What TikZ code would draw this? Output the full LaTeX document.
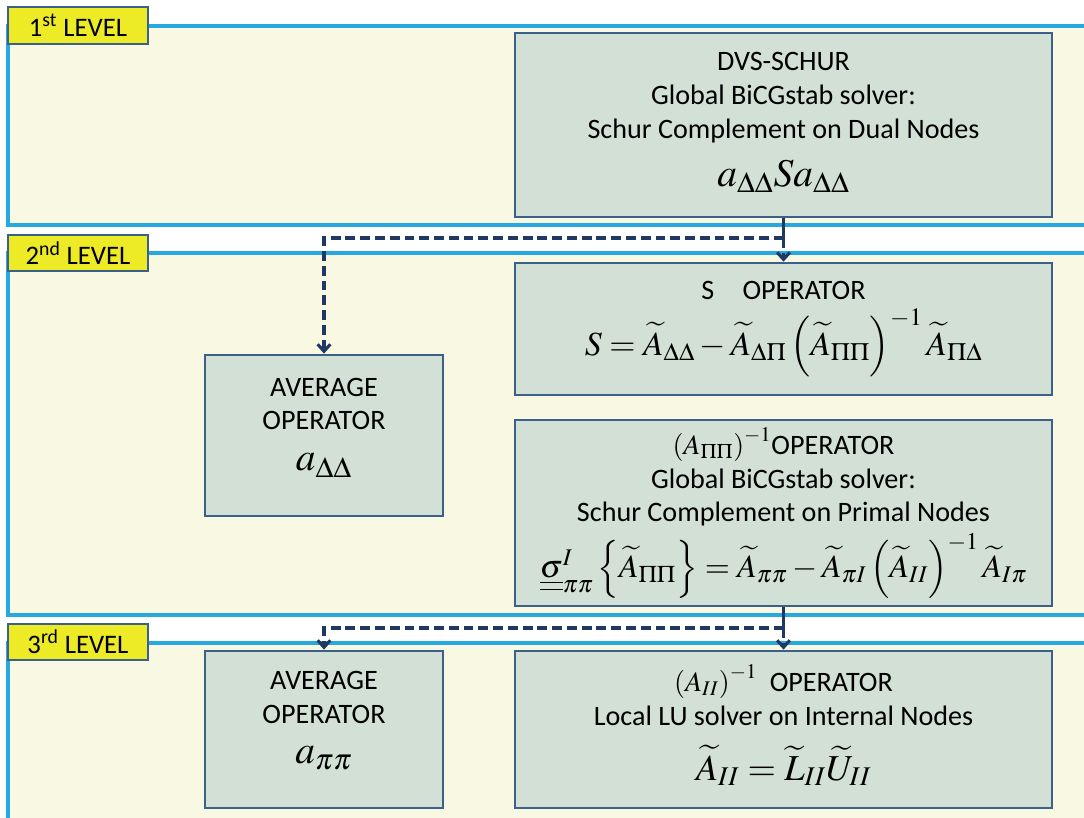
\documentclass[tikz,border=0pt]{standalone}
\usepackage{mathptmx}
\usepackage[no-math]{fontspec}
\setmainfont{Carlito}
\usetikzlibrary{arrows.meta}
\definecolor{fond}{RGB}{249,249,227}
\definecolor{ligne}{RGB}{38,168,224}
\definecolor{boite}{RGB}{211,224,214}
\definecolor{bord}{RGB}{59,96,138}
\definecolor{jaune}{RGB}{237,234,38}
\definecolor{fleche}{RGB}{31,56,100}

\begin{document}
\begin{tikzpicture}[x=0.025cm,y=-0.025cm,
	niveau/.style={draw=ligne,line width=2.2pt,fill=fond},
	etiq/.style={draw=bord,line width=1.5pt,fill=jaune,minimum width=3.5cm,minimum height=0.92cm,inner sep=0pt,font=\fontsize{19}{22}\selectfont},
	oper/.style={draw=bord,line width=1.8pt,fill=boite,inner sep=0pt,align=center,font=\fontsize{20}{24}\selectfont},
	lien/.style={draw=fleche,line width=2.2pt,dash pattern=on 7pt off 3.5pt},
	fl/.style={lien,-{Straight Barb[length=5pt,width=9pt]}}]
	\clip (0,0) rectangle (1084,817);

	% niveaux
	\draw[niveau] (8,26) rectangle (1110,225);
	\draw[niveau] (8,253) rectangle (1110,615);
	\draw[niveau] (8,643) rectangle (1110,840);
	\node[etiq] (niv1) at (78,25.5) {1\textsuperscript{st} LEVEL};
	\node[etiq] (niv2) at (78,253) {2\textsuperscript{nd} LEVEL};
	\node[etiq] (niv3) at (78,642) {3\textsuperscript{rd} LEVEL};

	% 1er niveau
	\node[oper,minimum width=13.43cm,minimum height=4.6cm] (dvs) at (783.5,125)
		{DVS-SCHUR\\Global BiCGstab solver:\\Schur Complement on Dual Nodes\\[10pt]
		{\fontsize{28}{30}\selectfont$a_{\Delta\Delta}Sa_{\Delta\Delta}$}\rule[-8pt]{0pt}{8pt}};

	% 2e niveau
	\node[oper,minimum width=5.95cm,minimum height=4.03cm] (moy2) at (324,435.5)
		{AVERAGE\\OPERATOR\\[5pt]{\fontsize{28}{30}\selectfont$a_{\Delta\Delta}$}\rule[-16pt]{0pt}{16pt}};
	\node[oper,minimum width=13.43cm,minimum height=3.3cm] (sop) at (783.5,329)
		{S\quad OPERATOR\\[6pt]
		{\fontsize{24}{28}\selectfont$S=\widetilde{A}_{\Delta\Delta}-\widetilde{A}_{\Delta\Pi}\left(\widetilde{A}_{\Pi\Pi}\right)^{-1}\widetilde{A}_{\Pi\Delta}$}};
	\node[oper,minimum width=13.43cm,minimum height=4.65cm] (app) at (783.5,513)
		{{\fontsize{20}{22}\selectfont$\left(A_{\Pi\Pi}\right)^{-1}$}OPERATOR\\Global BiCGstab solver:\\Schur Complement on Primal Nodes\\[4pt]
		{\fontsize{23}{26}\selectfont$\underline{\underline{\sigma}}^{I}_{\pi\pi}\left\{\widetilde{A}_{\Pi\Pi}\right\}=\widetilde{A}_{\pi\pi}-\widetilde{A}_{\pi I}\left(\widetilde{A}_{II}\right)^{-1}\widetilde{A}_{I\pi}$}};

	% 3e niveau
	\node[oper,minimum width=5.95cm,minimum height=3.93cm] (moy3) at (324,729.5)
		{AVERAGE\\OPERATOR\\[5pt]{\fontsize{28}{30}\selectfont$a_{\pi\pi}$}\rule[-17pt]{0pt}{17pt}};
	\node[oper,minimum width=13.43cm,minimum height=3.93cm] (aii) at (783.5,729.5)
		{{\fontsize{20}{22}\selectfont$\left(A_{II}\right)^{-1}$}\ \ OPERATOR\\Local LU solver on Internal Nodes\\[13pt]
		{\fontsize{26}{30}\selectfont$\widetilde{A}_{II}=\widetilde{L}_{II}\widetilde{U}_{II}$}\rule[-10pt]{0pt}{10pt}};

	% fleches
	\coordinate (b1) at (dvs.south |- 0,238);
	\coordinate (b2) at (app.south |- 0,628);
	\draw[lien,solid] (dvs.south) -- (b1);
	\draw[fl] (b1) -- (sop.north);
	\draw[fl] (b1) -| (moy2.north);
	\draw[lien,solid] (app.south) -- (b2);
	\draw[fl] (b2) -- (aii.north);
	\draw[fl] (b2) -| (moy3.north);
\end{tikzpicture}
\end{document}
